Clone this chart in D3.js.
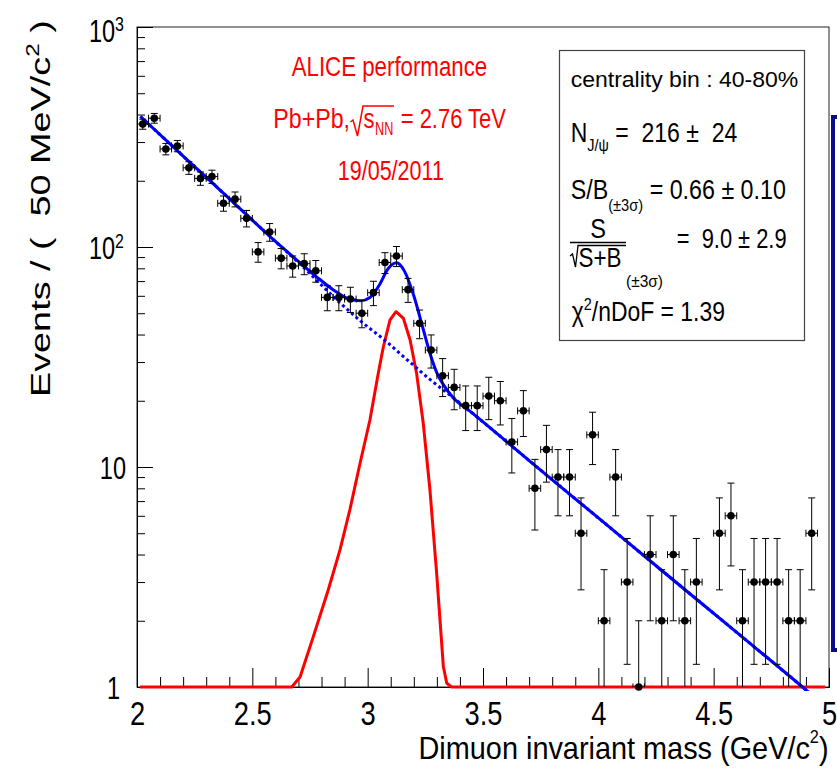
<!DOCTYPE html>
<html>
<head>
<meta charset="utf-8">
<script src="https://cdn.jsdelivr.net/npm/d3@7"></script>
<style>
body { margin: 0; background: #fff; }
svg { display: block; font-family: 'Liberation Sans', Arial, Helvetica, sans-serif; }
</style>
</head>
<body>
<div class="container"></div>
<script>
// histogram: 50 MeV bins, bin centres and event counts (0 = empty bin)
var binCenters = [
	2.025, 2.075, 2.125, 2.175, 2.225, 2.275, 2.325, 2.375, 2.425, 2.475,
	2.525, 2.575, 2.625, 2.675, 2.725, 2.775, 2.825, 2.875, 2.925, 2.975,
	3.025, 3.075, 3.125, 3.175, 3.225, 3.275, 3.325, 3.375, 3.425, 3.475,
	3.525, 3.575, 3.625, 3.675, 3.725, 3.775, 3.825, 3.875, 3.925, 3.975,
	4.025, 4.075, 4.125, 4.175, 4.225, 4.275, 4.325, 4.375, 4.425, 4.475,
	4.525, 4.575, 4.625, 4.675, 4.725, 4.775, 4.825, 4.875, 4.925, 4.975
];
var counts = [
	362, 385, 279, 288, 229, 205, 209, 158, 165, 135,
	95, 117, 89, 82, 84, 78, 59, 59, 58, 50,
	62, 85, 91, 64, 45, 34, 26, 23, 19, 19,
	21, 20, 13, 18, 8, 12, 9, 9, 5, 14,
	2, 9, 3, 1, 4, 2, 4, 2, 3, 0,
	5, 6, 2, 3, 3, 3, 2, 2, 5, 0
];

// fitted background (dotted)
var bgMass = [2.015, 2.2, 2.4, 2.6, 2.7, 2.87, 2.97, 3.07, 3.17, 3.27, 3.37, 3.45, 3.7, 4.0, 4.3, 4.6, 4.885, 5.0];
var bgValues = [392, 259, 166, 106, 85, 57, 46, 38, 30.8, 25, 20.7, 17.7, 10.7, 5.87, 3.22, 1.77, 1.0, 0.79];

// total fit (signal + background)
var totalMass = [2.015, 2.2, 2.4, 2.6, 2.7, 2.78, 2.85, 2.92, 2.97, 3.01, 3.05, 3.09, 3.125, 3.16, 3.2, 3.24, 3.27, 3.3, 3.33, 3.37, 3.45, 3.7, 4.0, 4.3, 4.6, 4.885, 5.0];
var totalValues = [392, 259, 166, 106, 86, 73, 64, 58, 57, 59, 67, 80, 84.8, 77.5, 60, 42.6, 32.9, 26.8, 23.5, 20.7, 17.7, 10.7, 5.87, 3.22, 1.77, 1.0, 0.79];

// J/psi signal shape
var sigMass = [2.013, 2.671, 2.707, 2.764, 2.829, 2.88, 2.923, 2.967, 3.01, 3.046, 3.068, 3.097, 3.123, 3.155, 3.184, 3.212, 3.241, 3.27, 3.299, 3.328, 3.343, 3.364, 4.983];
var sigValues = [1, 1, 1.11, 1.69, 2.76, 4.2, 6.4, 10.4, 16.4, 26.7, 35.2, 46.6, 50.8, 47.4, 37.8, 26.7, 15.8, 7.86, 3.29, 1.24, 1.04, 1, 1];

var xMajor = [2, 2.5, 3, 3.5, 4, 4.5, 5];
var xMinor = [2.1, 2.2, 2.3, 2.4, 2.6, 2.7, 2.8, 2.9, 3.1, 3.2, 3.3, 3.4, 3.6, 3.7, 3.8, 3.9, 4.1, 4.2, 4.3, 4.4, 4.6, 4.7, 4.8, 4.9];
var yMajor = [1, 10, 100, 1000];
var yMinor = [2, 3, 4, 5, 6, 7, 8, 9, 20, 30, 40, 50, 60, 70, 80, 90, 200, 300, 400, 500, 600, 700, 800, 900];
var yLabels = [['1', ''], ['10', ''], ['10', '2'], ['10', '3']];

var svg = d3
	.select('.container')
	.append('svg')
	.attr('width', 837)
	.attr('height', 779);

var x = d3.scaleLinear().domain([2, 5]).range([137, 829]);
var y = d3.scaleLog().domain([1, 1000]).range([687, 27]);

// text with optional horizontal squeeze to a target width
function addText(g, px, py, parts, size, opts) {
	opts = opts || {};
	var t = g
		.append('text')
		.attr('font-size', size)
		.attr('fill', opts.color || '#000')
		.attr('text-anchor', opts.anchor || 'start')
		.style('white-space', 'pre');
	parts.forEach(function(p) {
		t.append('tspan')
			.attr('font-size', p[1] || size)
			.attr('dy', p[2] || 0)
			.text(p[0]);
	});
	var sx = opts.sx || 1;
	if (opts.width) sx = opts.width / t.node().getComputedTextLength();
	t.attr(
		'transform',
		'translate(' + px + ',' + py + ')' +
			(opts.rotate ? ' rotate(' + opts.rotate + ')' : '') +
			' scale(' + sx + ',1)'
	);
	return t;
}

var defs = svg.append('defs');
defs.append('clipPath').attr('id', 'clipCurves')
	.append('rect').attr('x', 137).attr('y', 27).attr('width', 692).attr('height', 664);
defs.append('clipPath').attr('id', 'clipBars')
	.append('rect').attr('x', 137).attr('y', 27).attr('width', 692).attr('height', 660);

// frame
svg.append('rect')
	.attr('x', x(2)).attr('y', y(1000))
	.attr('width', x(5) - x(2)).attr('height', y(1) - y(1000))
	.attr('fill', 'none').attr('stroke', '#222').attr('stroke-width', 1);

// axes, ROOT style ticks inside the frame
var xAxisG = svg.append('g').attr('transform', 'translate(0,' + y(1) + ')');
xAxisG.append('g').call(d3.axisBottom(x).tickValues(xMinor).tickSize(-10).tickFormat(''));
var xMaj = xAxisG.append('g').call(
	d3.axisBottom(x).tickValues(xMajor).tickSizeInner(-19).tickSizeOuter(0).tickFormat(d3.format('~g'))
);
xAxisG.selectAll('.domain').attr('stroke', '#000');
xAxisG.selectAll('.tick line').attr('stroke', '#000');
xMaj.attr('font-size', 32.5).attr('font-family', null);
xMaj.selectAll('.tick text')
	.attr('y', 38)
	.attr('dy', null)
	.attr('fill', '#000')
	.attr('transform', 'scale(0.84,1)');

var yAxisG = svg.append('g').attr('transform', 'translate(' + x(2) + ',0)');
yAxisG.append('g').call(d3.axisLeft(y).tickValues(yMinor).tickSize(-8).tickFormat(''));
yAxisG.append('g').call(d3.axisLeft(y).tickValues(yMajor).tickSizeInner(-16).tickSizeOuter(0).tickFormat(''));
yAxisG.selectAll('.domain').attr('stroke', '#000');
yAxisG.selectAll('.tick line').attr('stroke', '#000');

var yLab = svg.append('g');
yMajor.forEach(function(v, i) {
	var base = Math.max(y(v) + 11.5, 41.7);
	var lab = yLabels[i];
	var parts = [[lab[0]]];
	if (lab[1]) parts.push([lab[1], 21, -10.5]);
	var right = lab[1] ? 124 : (lab[0] === '10' ? 126 : 120);
	addText(yLab, right, base, parts, 31, { anchor: 'end', sx: 0.76 });
});

// axis titles
addText(svg, 828.5, 759, [['Dimuon invariant mass (GeV/c'], ['2', 18, -16], [')', 32, 16]], 32, {
	anchor: 'end',
	width: 410
});
addText(svg, 50, 397, [['Events / (  50 MeV/c'], ['2', 18, -11], [' )', 28, 11]], 28, {
	rotate: -90,
	width: 377
});

// fit curves
var curves = svg.append('g').attr('clip-path', 'url(#clipCurves)');
var smooth = d3
	.line()
	.x(function(d) { return x(d[0]); })
	.y(function(d) { return y(d[1]); })
	.curve(d3.curveMonotoneX);
var straight = d3
	.line()
	.x(function(d) { return x(d[0]); })
	.y(function(d) { return y(d[1]); });

curves.append('path')
	.attr('d', straight(d3.zip(sigMass, sigValues)))
	.attr('fill', 'none').attr('stroke', '#ff0000').attr('stroke-width', 3)
	.attr('stroke-linejoin', 'round');
curves.append('path')
	.attr('d', smooth(d3.zip(bgMass, bgValues)))
	.attr('fill', 'none').attr('stroke', '#0000ff').attr('stroke-width', 3)
	.attr('stroke-dasharray', '3,3');
curves.append('path')
	.attr('d', smooth(d3.zip(totalMass, totalValues)))
	.attr('fill', 'none').attr('stroke', '#0000ff').attr('stroke-width', 3)
	.attr('stroke-linejoin', 'round');

// data points with sqrt(N) errors
var points = binCenters
	.map(function(c, i) { return { m: c, n: counts[i] }; })
	.filter(function(d) { return d.n > 0; });

var bars = svg.append('g').attr('clip-path', 'url(#clipBars)')
	.attr('stroke', '#000').attr('stroke-width', 1);
var cap = 3.5;
points.forEach(function(d) {
	var err = Math.sqrt(d.n);
	var cx = x(d.m);
	var cy = y(d.n);
	var top = y(d.n + err);
	var bot = d.n - err > 0 ? y(d.n - err) : 760;
	bars.append('line').attr('x1', cx).attr('x2', cx).attr('y1', top).attr('y2', bot);
	bars.append('line').attr('x1', cx - cap).attr('x2', cx + cap).attr('y1', top).attr('y2', top);
	bars.append('line').attr('x1', cx - cap).attr('x2', cx + cap).attr('y1', bot).attr('y2', bot);
	var xl = x(d.m - 0.025), xr = x(d.m + 0.025);
	bars.append('line').attr('x1', xl).attr('x2', xr).attr('y1', cy).attr('y2', cy);
	bars.append('line').attr('x1', xl).attr('x2', xl).attr('y1', cy - cap).attr('y2', cy + cap);
	bars.append('line').attr('x1', xr).attr('x2', xr).attr('y1', cy - cap).attr('y2', cy + cap);
});

svg.append('g')
	.selectAll('circle')
	.data(points)
	.enter()
	.append('circle')
	.attr('cx', function(d) { return x(d.m); })
	.attr('cy', function(d) { return y(d.n); })
	.attr('r', 3.8)
	.attr('fill', '#000');

// ALICE label
var red = '#ff0000';
addText(svg, 291.7, 76, [['ALICE performance']], 27, { color: red, width: 195.6 });
addText(svg, 273.3, 128.3, [['Pb+Pb,']], 27, { color: red, width: 76.7 });
svg.append('path')
	.attr('d', 'M350.5,122 L353,120 L357.5,136 L363,106 L394,106')
	.attr('fill', 'none').attr('stroke', red).attr('stroke-width', 1.5);
addText(svg, 363.5, 128.3, [['s']], 27, { color: red, width: 11 });
addText(svg, 375, 135, [['NN']], 18, { color: red, width: 18.3 });
addText(svg, 400.7, 128.3, [['= 2.76 TeV']], 27, { color: red, width: 105.3 });
addText(svg, 337.7, 180, [['19/05/2011']], 28, { color: red, width: 106.3 });

// fit results box
var box = svg.append('g');
box.append('rect')
	.attr('x', 559.5).attr('y', 50.5).attr('width', 245).attr('height', 290)
	.attr('fill', '#fff').attr('stroke', '#444').attr('stroke-width', 1.2);
addText(box, 570.7, 87.3, [['centrality bin : 40-80%']], 22, { width: 227.6 });
addText(box, 570.7, 141.7, [['N'], ['J/\u03c8', 17, 9], [' =  216 \u00b1  24', 27, -9]], 27, { width: 166.6 });
addText(box, 570.7, 199, [['S/B'], ['(\u00b13\u03c3)', 17, 12], [' = 0.66 \u00b1 0.10', 27, -12]], 27, { width: 215.3 });
addText(box, 598, 238, [['S']], 27, { anchor: 'middle', sx: 0.87 });
box.append('line')
	.attr('x1', 570).attr('x2', 626).attr('y1', 242.5).attr('y2', 242.5)
	.attr('stroke', '#000').attr('stroke-width', 1.5);
box.append('path')
	.attr('d', 'M570,256 L572.5,254 L575.5,267 L578,245.5 L626,245.5')
	.attr('fill', 'none').attr('stroke', '#000').attr('stroke-width', 1.3);
addText(box, 578.5, 267.3, [['S+B']], 27, { width: 43 });
addText(box, 626, 287, [['(\u00b13\u03c3)']], 17, { width: 37 });
addText(box, 676.7, 248.3, [['=  9.0 \u00b1 2.9']], 27, { width: 110 });
addText(box, 571.7, 320.7, [['\u03c7'], ['2', 17, -11], ['/nDoF = 1.39', 27, 11]], 27, { width: 153.3 });

// edge of the legend box on the right
svg.append('rect')
	.attr('x', 833).attr('y', 117).attr('width', 30).attr('height', 533)
	.attr('fill', '#fff').attr('stroke', '#0a0a8a').attr('stroke-width', 4);
</script>
</body>
</html>
